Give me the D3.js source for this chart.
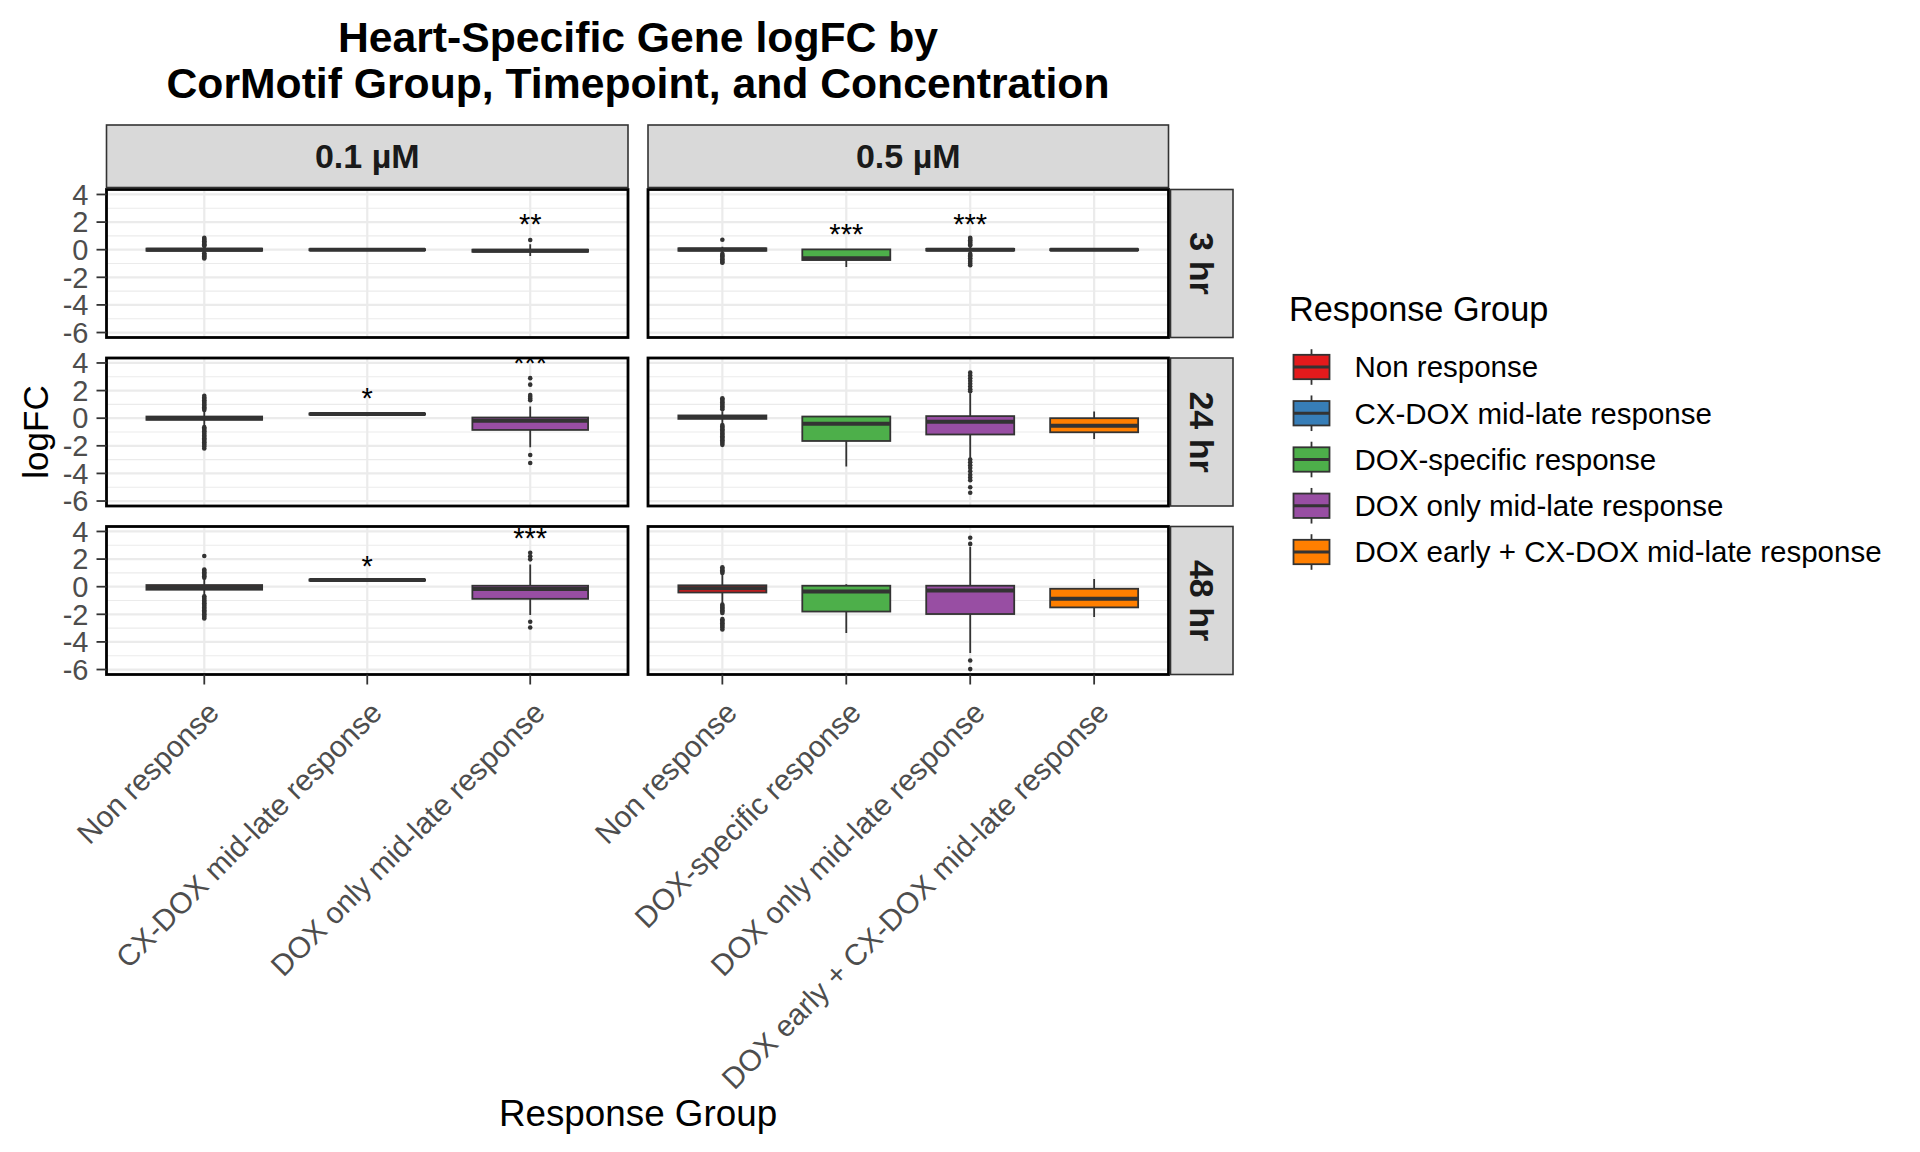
<!DOCTYPE html>
<html><head><meta charset="utf-8">
<script src="https://cdn.jsdelivr.net/npm/d3@7"></script>
<style>
body{margin:0;background:#fff}
svg{display:block}
text{font-family:"Liberation Sans",Arial,Helvetica,sans-serif}
</style>
</head><body>
<svg id="chart" width="1920" height="1152"></svg>
<script>
// ---------------- DATA ----------------
const titleLines = ["Heart-Specific Gene logFC by", "CorMotif Group, Timepoint, and Concentration"];
const timepoints = ["3 hr", "24 hr", "48 hr"];
const concentrations = ["0.1 µM", "0.5 µM"];
const responseGroups = ["Non response", "CX-DOX mid-late response", "DOX-specific response",
  "DOX only mid-late response", "DOX early + CX-DOX mid-late response"];
const groupColors = ["#E41A1C", "#377EB8", "#4DAF4A", "#984EA3", "#FF7F00"];
const groups_0_1uM = ["Non response", "CX-DOX mid-late response", "DOX only mid-late response"];
const groups_0_5uM = ["Non response", "DOX-specific response", "DOX only mid-late response", "DOX early + CX-DOX mid-late response"];
const yTicks = [-6, -4, -2, 0, 2, 4];
const yMinorTicks = [-5, -3, -1, 1, 3];

// box statistics: lo / hi = whisker ends, out = outliers
const box_0_1uM_3hr = [
  {group: "Non response", lo: -0.2, q1: -0.08, med: 0.0, q3: 0.08, hi: 0.2,
   out: [0.87, 0.78, 0.7, 0.62, 0.55, 0.48, 0.4, 0.33, 0.27, -0.25, -0.32, -0.4, -0.48, -0.56, -0.64]},
  {group: "CX-DOX mid-late response", lo: -0.04, q1: -0.04, med: 0.0, q3: 0.04, hi: 0.04, out: []},
  {group: "DOX only mid-late response", lo: -0.45, q1: -0.15, med: -0.07, q3: 0.0, hi: 0.4, out: [0.7]}
];
const box_0_5uM_3hr = [
  {group: "Non response", lo: -0.2, q1: -0.08, med: 0.02, q3: 0.1, hi: 0.22,
   out: [0.72, -0.3, -0.4, -0.5, -0.6, -0.7, -0.8, -0.9, -0.95]},
  {group: "DOX-specific response", lo: -1.25, q1: -0.75, med: -0.62, q3: 0.02, hi: 0.05, out: []},
  {group: "DOX only mid-late response", lo: -0.2, q1: -0.06, med: 0.0, q3: 0.06, hi: 0.2,
   out: [0.87, 0.78, 0.68, 0.58, 0.48, 0.38, 0.3, -0.3, -0.4, -0.5, -0.62, -0.75, -0.88, -1.0, -1.12]},
  {group: "DOX early + CX-DOX mid-late response", lo: -0.04, q1: -0.04, med: 0.0, q3: 0.04, hi: 0.04, out: []}
];
const box_0_1uM_24hr = [
  {group: "Non response", lo: -0.5, q1: -0.12, med: 0.0, q3: 0.12, hi: 0.5,
   out: [1.62, 1.5, 1.4, 1.3, 1.2, 1.1, 1.0, 0.9, 0.8, 0.7, 0.6, -0.65, -0.75, -0.85, -0.95, -1.05, -1.15, -1.25,
         -1.35, -1.45, -1.55, -1.65, -1.75, -1.85, -1.95, -2.05, -2.2]},
  {group: "CX-DOX mid-late response", lo: 0.26, q1: 0.26, med: 0.3, q3: 0.34, hi: 0.34, out: []},
  {group: "DOX only mid-late response", lo: -2.1, q1: -0.85, med: -0.18, q3: 0.05, hi: 0.85,
   out: [1.3, 1.42, 1.55, 1.68, 2.43, 2.9, -2.67, -3.25]}
];
const box_0_5uM_24hr = [
  {group: "Non response", lo: -0.35, q1: -0.05, med: 0.08, q3: 0.2, hi: 0.5,
   out: [1.45, 1.35, 1.25, 1.15, 1.05, 0.95, 0.85, 0.75, 0.65, -0.5, -0.6, -0.7, -0.8, -0.9, -1.0, -1.1, -1.2,
         -1.3, -1.4, -1.5, -1.6, -1.7, -1.8, -1.93]},
  {group: "DOX-specific response", lo: -3.5, q1: -1.65, med: -0.4, q3: 0.12, hi: 0.15, out: []},
  {group: "DOX only mid-late response", lo: -2.9, q1: -1.18, med: -0.25, q3: 0.15, hi: 1.8,
   out: [1.95, 2.1, 2.3, 2.5, 2.7, 2.9, 3.1, 3.3, -3.0, -3.2, -3.4, -3.6, -3.85, -4.1, -4.3, -4.5, -5.0, -5.4]},
  {group: "DOX early + CX-DOX mid-late response", lo: -1.5, q1: -1.02, med: -0.55, q3: 0.0, hi: 0.49, out: []}
];
const box_0_1uM_48hr = [
  {group: "Non response", lo: -0.6, q1: -0.22, med: -0.05, q3: 0.12, hi: 0.55,
   out: [2.22, 1.25, 1.15, 1.05, 0.95, 0.85, 0.75, 0.65, -0.7, -0.8, -0.9, -1.0, -1.1, -1.2, -1.3, -1.4, -1.5,
         -1.6, -1.7, -1.8, -1.9, -2.0, -2.1, -2.2, -2.3]},
  {group: "CX-DOX mid-late response", lo: 0.44, q1: 0.44, med: 0.48, q3: 0.52, hi: 0.52, out: []},
  {group: "DOX only mid-late response", lo: -2.05, q1: -0.88, med: -0.17, q3: 0.07, hi: 1.6,
   out: [1.98, 2.2, 2.46, -2.54, -2.96]}
];
const box_0_5uM_48hr = [
  {group: "Non response", lo: -1.2, q1: -0.42, med: -0.12, q3: 0.1, hi: 0.88,
   out: [1.0, 1.1, 1.2, 1.3, 1.4, -1.3, -1.4, -1.5, -1.6, -1.7, -1.8, -1.9, -2.35, -2.45, -2.55, -2.65, -2.75,
         -2.85, -2.95, -3.1]},
  {group: "DOX-specific response", lo: -3.35, q1: -1.8, med: -0.34, q3: 0.07, hi: 0.18, out: []},
  {group: "DOX only mid-late response", lo: -4.8, q1: -1.98, med: -0.27, q3: 0.07, hi: 2.9,
   out: [3.1, 3.55, -5.35, -5.97]},
  {group: "DOX early + CX-DOX mid-late response", lo: -2.2, q1: -1.5, med: -0.88, q3: -0.15, hi: 0.55, out: []}
];
// significance labels (y = visual centre of the asterisks)
const sig_0_1uM = [
  {time: "3 hr", group: "DOX only mid-late response", label: "**", y: 2.3},
  {time: "24 hr", group: "CX-DOX mid-late response", label: "*", y: 1.9},
  {time: "24 hr", group: "DOX only mid-late response", label: "***", y: 4.5},
  {time: "48 hr", group: "CX-DOX mid-late response", label: "*", y: 2.0},
  {time: "48 hr", group: "DOX only mid-late response", label: "***", y: 4.0}
];
const sig_0_5uM = [
  {time: "3 hr", group: "DOX-specific response", label: "***", y: 1.6},
  {time: "3 hr", group: "DOX only mid-late response", label: "***", y: 2.35}
];

// ---------------- LAYOUT ----------------
const svg = d3.select("#chart");
svg.append("rect").attr("width", 1920).attr("height", 1152).attr("fill", "#fff");

const colX = [[106.5, 628], [648, 1168.5]];
const rowTop = [189.5, 358, 526.5];
const panelH = 148;
const yDomain = [-6.36, 4.36];
const colGroups = [groups_0_1uM, groups_0_5uM];
const panelBoxes = [[box_0_1uM_3hr, box_0_1uM_24hr, box_0_1uM_48hr], [box_0_5uM_3hr, box_0_5uM_24hr, box_0_5uM_48hr]];
const colSig = [sig_0_1uM, sig_0_5uM];
const colorOf = d3.scaleOrdinal().domain(responseGroups).range(groupColors);

const axisTextSize = 29;
const xLabelSize = 29.8;
const gridCol = "#EBEBEB";
const darkCol = "#333333";

// title
svg.append("g").selectAll("text").data(titleLines).join("text")
  .attr("x", 638).attr("y", (d, i) => 52 + i * 45.5)
  .attr("text-anchor", "middle").attr("font-weight", "bold").attr("font-size", 42.7)
  .attr("fill", "#000").text(d => d);

const xScales = colX.map((cx, c) => d3.scalePoint().domain(colGroups[c]).range(cx).padding(0.6));
const yScales = rowTop.map(t => d3.scaleLinear().domain(yDomain).range([t + panelH, t]));

const defs = svg.append("defs");

colX.forEach((cx, c) => {
  const x = xScales[c];
  const bw = x.step() * 0.71;
  rowTop.forEach((top, r) => {
    const y = yScales[r];
    const clipId = `clip-${c}-${r}`;
    defs.append("clipPath").attr("id", clipId).append("rect")
      .attr("x", cx[0]).attr("y", top).attr("width", cx[1] - cx[0]).attr("height", panelH);
    const g = svg.append("g").attr("clip-path", `url(#${clipId})`);
    g.append("rect").attr("x", cx[0]).attr("y", top).attr("width", cx[1] - cx[0]).attr("height", panelH).attr("fill", "#fff");
    // grid
    g.selectAll(".minor").data(yMinorTicks).join("line")
      .attr("x1", cx[0]).attr("x2", cx[1]).attr("y1", d => y(d)).attr("y2", d => y(d))
      .attr("stroke", gridCol).attr("stroke-width", 1.1);
    g.selectAll(".major").data(yTicks).join("line")
      .attr("x1", cx[0]).attr("x2", cx[1]).attr("y1", d => y(d)).attr("y2", d => y(d))
      .attr("stroke", gridCol).attr("stroke-width", 2.2);
    g.selectAll(".vmajor").data(colGroups[c]).join("line")
      .attr("x1", d => x(d)).attr("x2", d => x(d)).attr("y1", top).attr("y2", top + panelH)
      .attr("stroke", gridCol).attr("stroke-width", 2.2);

    const boxes = panelBoxes[c][r];
    boxes.forEach(b => {
      const xc = x(b.group);
      const bg = g.append("g");
      // whiskers
      bg.append("line").attr("x1", xc).attr("x2", xc).attr("y1", y(b.q3)).attr("y2", y(b.hi))
        .attr("stroke", darkCol).attr("stroke-width", 1.8);
      bg.append("line").attr("x1", xc).attr("x2", xc).attr("y1", y(b.q1)).attr("y2", y(b.lo))
        .attr("stroke", darkCol).attr("stroke-width", 1.8);
      // outliers
      bg.selectAll("circle").data(b.out).join("circle")
        .attr("cx", xc).attr("cy", d => y(d)).attr("r", 2.3).attr("fill", darkCol);
      // box
      bg.append("rect").attr("x", xc - bw / 2).attr("width", bw)
        .attr("y", y(b.q3)).attr("height", Math.max(0.01, y(b.q1) - y(b.q3)))
        .attr("fill", colorOf(b.group)).attr("stroke", darkCol).attr("stroke-width", 1.8);
      // median
      bg.append("line").attr("x1", xc - bw / 2).attr("x2", xc + bw / 2).attr("y1", y(b.med)).attr("y2", y(b.med))
        .attr("stroke", darkCol).attr("stroke-width", 4);
    });
    // significance labels
    g.selectAll(".sig").data(colSig[c].filter(s => s.time === timepoints[r])).join("text")
      .attr("x", d => x(d.group)).attr("y", d => y(d.y) + 0.57 * axisTextSize)
      .attr("text-anchor", "middle").attr("font-size", axisTextSize).attr("fill", "#000").text(d => d.label);

    // border
    svg.append("rect").attr("x", cx[0]).attr("y", top).attr("width", cx[1] - cx[0]).attr("height", panelH)
      .attr("fill", "none").attr("stroke", "#000").attr("stroke-width", 2.8);

    // y axis on first column
    if (c === 0) {
      const ya = svg.append("g");
      ya.selectAll("line").data(yTicks).join("line")
        .attr("x1", cx[0] - 10).attr("x2", cx[0]).attr("y1", d => y(d)).attr("y2", d => y(d))
        .attr("stroke", darkCol).attr("stroke-width", 1.8);
      ya.selectAll("text").data(yTicks).join("text")
        .attr("x", cx[0] - 18).attr("y", d => y(d) + 0.355 * axisTextSize)
        .attr("text-anchor", "end").attr("font-size", axisTextSize).attr("fill", "#4D4D4D").text(d => d);
    }
    // x axis on bottom row
    if (r === rowTop.length - 1) {
      const xa = svg.append("g");
      const bottom = top + panelH;
      xa.selectAll("line").data(colGroups[c]).join("line")
        .attr("x1", d => x(d)).attr("x2", d => x(d)).attr("y1", bottom).attr("y2", bottom + 10)
        .attr("stroke", darkCol).attr("stroke-width", 1.8);
      xa.selectAll("text").data(colGroups[c]).join("text")
        .attr("transform", d => `translate(${x(d)},${bottom + 23.5}) rotate(-45)`)
        .attr("x", 0).attr("y", 0.78 * xLabelSize)
        .attr("text-anchor", "end").attr("font-size", xLabelSize).attr("fill", "#4D4D4D").text(d => d);
    }
  });
  // top strip
  svg.append("rect").attr("x", cx[0]).attr("y", 125).attr("width", cx[1] - cx[0]).attr("height", 62.5)
    .attr("fill", "#D9D9D9").attr("stroke", darkCol).attr("stroke-width", 1.6);
  svg.append("text").attr("x", (cx[0] + cx[1]) / 2).attr("y", 156.25 + 0.36 * 34)
    .attr("text-anchor", "middle").attr("font-size", 34).attr("font-weight", "bold").attr("fill", "#1A1A1A")
    .text(concentrations[c]);
});

// right strips
rowTop.forEach((top, r) => {
  svg.append("rect").attr("x", 1170.5).attr("y", top).attr("width", 62.5).attr("height", panelH)
    .attr("fill", "#D9D9D9").attr("stroke", darkCol).attr("stroke-width", 1.6);
  svg.append("text").attr("transform", `translate(${1201.75},${top + panelH / 2}) rotate(90)`)
    .attr("y", 0.36 * 34).attr("text-anchor", "middle").attr("font-size", 34).attr("font-weight", "bold")
    .attr("fill", "#1A1A1A").text(timepoints[r]);
});

// axis titles
svg.append("text").attr("transform", "translate(35,432) rotate(-90)").attr("y", 0.36 * 35)
  .attr("text-anchor", "middle").attr("font-size", 35).attr("fill", "#000").text("logFC");
svg.append("text").attr("x", 638).attr("y", 1126)
  .attr("text-anchor", "middle").attr("font-size", 36.8).attr("fill", "#000").text("Response Group");

// legend
const leg = svg.append("g");
leg.append("text").attr("x", 1289).attr("y", 321).attr("font-size", 34.3).attr("fill", "#000").text("Response Group");
const keyY = d3.scalePoint().domain(responseGroups).range([367, 552]);
responseGroups.forEach(gName => {
  const cy = keyY(gName);
  const kx0 = 1293.5, kx1 = 1329.5, kh = 24.4;
  const kc = (kx0 + kx1) / 2;
  leg.append("line").attr("x1", kc).attr("x2", kc).attr("y1", cy - kh / 2 - 5.6).attr("y2", cy + kh / 2 + 5.6)
    .attr("stroke", darkCol).attr("stroke-width", 1.8);
  leg.append("rect").attr("x", kx0).attr("y", cy - kh / 2).attr("width", kx1 - kx0).attr("height", kh)
    .attr("fill", colorOf(gName)).attr("stroke", darkCol).attr("stroke-width", 1.8);
  leg.append("line").attr("x1", kx0).attr("x2", kx1).attr("y1", cy).attr("y2", cy)
    .attr("stroke", darkCol).attr("stroke-width", 3);
  leg.append("text").attr("x", 1354.5).attr("y", cy + 0.355 * 29.5).attr("font-size", 29.5).attr("fill", "#000").text(gName);
});
</script>
</body></html>
